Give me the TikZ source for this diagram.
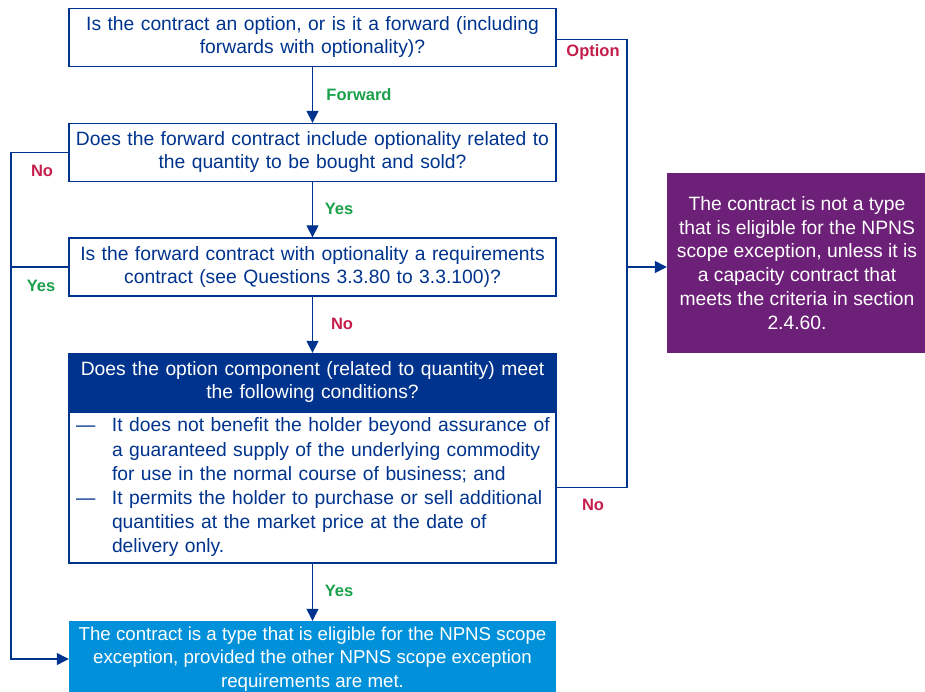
\documentclass[tikz,border=0pt]{standalone}
\usepackage{fontspec}
\setmainfont{Liberation Sans}
\usetikzlibrary{arrows.meta}

\definecolor{kdark}{HTML}{00338D}
\definecolor{klight}{HTML}{0091DA}
\definecolor{kpurple}{HTML}{6D2077}
\definecolor{kgreen}{HTML}{1AA04A}
\definecolor{kred}{HTML}{C41E4A}

\tikzset{
	qbox/.style={draw=kdark, line width=1.3pt, text=kdark, inner sep=0pt, minimum width=487pt, minimum height=58pt, text width=480pt, align=center, font=\fontsize{19.3}{23}\selectfont},
	headbox/.style={qbox, fill=kdark, text=white},
	listbox/.style={qbox, text width=473pt, align=left, minimum height=151pt, font=\fontsize{19.3}{24.2}\selectfont},
	endbox/.style={inner sep=0pt, text=white, align=center, font=\fontsize{19.3}{23.8}\selectfont},
	link/.style={draw=kdark, line width=1.3pt},
	arr/.style={link, -{Triangle[length=12pt,width=12pt]}},
	yeslbl/.style={text=kgreen, font=\fontsize{16.5}{20}\selectfont\bfseries},
	nolbl/.style={text=kred, font=\fontsize{16.5}{20}\selectfont\bfseries}
}

\begin{document}
\begin{tikzpicture}[x=1pt,y=-1pt]
	\useasboundingbox (0,0) rectangle (925,692);
	
	\node[qbox] (qtype) at (312.5,37.5) {Is the contract an option, or is it a forward (including\\forwards with optionality)?};
	\node[qbox] (qopt) at (312.5,152.5) {Does the forward contract include optionality related to\\the quantity to be bought and sold?};
	\node[qbox] (qreq) at (312.5,267) {Is the forward contract with optionality a requirements\\contract (see Questions 3.3.80 to 3.3.100)?};
	\node[headbox] (qcond) at (312.5,382.5) {Does the option component (related to quantity) meet\\the following conditions?};
	\node[listbox] (qcondlist) at (312.5,487.5) {\begin{tabular}{@{}p{36pt}@{}l@{}}
		--- & It does not benefit the holder beyond assurance of\\
		& a guaranteed supply of the underlying commodity\\
		& for use in the normal course of business; and\\
		--- & It permits the holder to purchase or sell additional\\
		& quantities at the market price at the date of\\
		& delivery only.
	\end{tabular}};
	
	\node[endbox, fill=klight, minimum width=487pt, minimum height=76pt, font=\fontsize{18.7}{23.8}\selectfont] (yesend) at (312.5,659) {The contract is a type that is eligible for the NPNS scope\\exception, provided the other NPNS scope exception\\requirements are met.};
	\node[endbox, fill=kpurple, minimum width=260pt, minimum height=180pt] (noend) at (797,263) {The contract is not a type\\that is eligible for the NPNS\\scope exception, unless it is\\a capacity contract that\\meets the criteria in section\\2.4.60.};
	
	\coordinate (ltrunk) at (11,0);
	\coordinate (rtrunk) at (627,0);
	\coordinate (optout) at ([yshift=-2pt]qtype.east);
	
	\draw[arr] (qtype) -- (qopt);
	\draw[arr] (qopt) -- (qreq);
	\draw[arr] (qreq) -- (qcond);
	\draw[arr] (qcondlist) -- (yesend);
	
	\draw[arr] (qopt.west) -- (ltrunk |- qopt.west) |- (yesend.west);
	\draw[link] (qreq.west) -- (ltrunk |- qreq.west);
	\draw[link] (optout) -- (rtrunk |- optout) |- (qcondlist.east);
	\draw[arr] (rtrunk |- qreq) -- (noend.west |- qreq);
	
	\node[yeslbl] (lblfwd) at (359,95) {Forward};
	\node[yeslbl] (lblyes1) at (339,209) {Yes};
	\node[nolbl] (lblno1) at (342,324) {No};
	\node[yeslbl] (lblyes2) at (339,591) {Yes};
	\node[nolbl] (lblno2) at (42,171) {No};
	\node[yeslbl] (lblyes3) at (41,286) {Yes};
	\node[nolbl] (lblopt) at (593,52) {Option};
	\node[nolbl] (lblno3) at (593,505) {No};
\end{tikzpicture}
\end{document}
